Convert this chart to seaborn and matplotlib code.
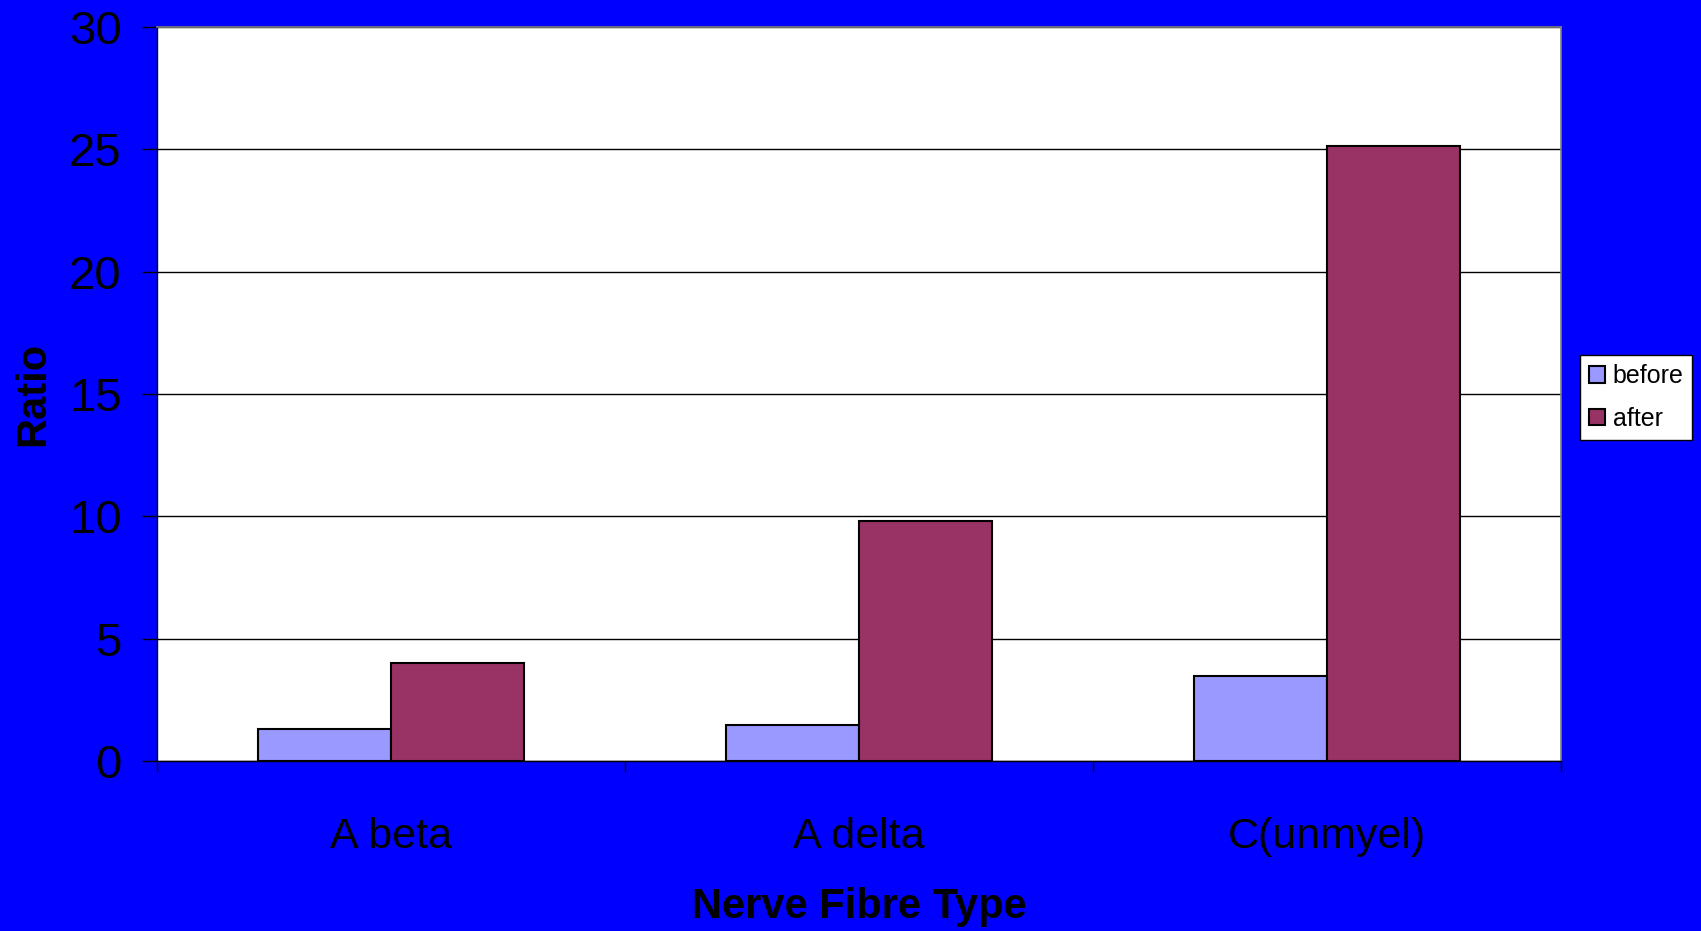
import matplotlib
matplotlib.use("Agg")
import matplotlib.pyplot as plt
import seaborn as sns
import pandas as pd
from matplotlib.ticker import FixedLocator

categories = ["A beta", "A delta", "C(unmyel)"]
before = [1.32, 1.46, 3.47]
after = [4.0, 9.82, 25.15]
series = ["before", "after"]
colors = {"before": "#9999FF", "after": "#993366"}

df = pd.DataFrame({
    "Nerve Fibre Type": categories * 2,
    "Ratio": before + after,
    "series": ["before"] * 3 + ["after"] * 3,
})

sns.set_style("white")
plt.rcParams["font.family"] = ["Liberation Sans", "DejaVu Sans"]
plt.rcParams["text.color"] = "black"
plt.rcParams["axes.labelcolor"] = "black"
plt.rcParams["xtick.color"] = "black"
plt.rcParams["ytick.color"] = "black"

fig = plt.figure(figsize=(17.01, 9.31), dpi=100)
fig.patch.set_facecolor("#0000FF")
ax = fig.add_axes([157/1701, 1-761/931, (1561-157)/1701, (761-27)/931])
ax.set_facecolor("white")

sns.barplot(data=df, x="Nerve Fibre Type", y="Ratio", hue="series", hue_order=series,
            palette=colors, width=0.57, gap=0, edgecolor="black", linewidth=1.5,
            saturation=1, ax=ax, legend=True, zorder=3)

ax.set_xlim(-0.5, 2.5)
ax.set_ylim(0, 30)
ax.set_yticks([0, 5, 10, 15, 20, 25, 30])
ax.yaxis.grid(True, color="black", linewidth=1.0, zorder=0)
ax.set_axisbelow(True)
ax.tick_params(axis="y", which="major", length=10.5, width=1.0, color="black",
               labelsize=34, pad=15, left=True, direction="out", labelcolor="black")
ax.tick_params(axis="x", which="major", length=0, labelsize=31, pad=40, labelcolor="black")
ax.xaxis.set_minor_locator(FixedLocator([-0.5, 0.5, 1.5, 2.5]))
ax.tick_params(axis="x", which="minor", length=8, width=1.0, color="black",
               bottom=True, direction="out")

for s in ["left", "bottom"]:
    ax.spines[s].set_color("black")
    ax.spines[s].set_linewidth(1.0)
for s in ["top", "right"]:
    ax.spines[s].set_color("#808080")
    ax.spines[s].set_linewidth(1.2)

ax.set_ylabel("Ratio", fontsize=30, fontweight="bold", labelpad=11, color="black")
ax.set_xlabel("Nerve Fibre Type", fontsize=30, fontweight="bold", labelpad=22, color="black")

handles, labels = ax.get_legend_handles_labels()
ax.legend_.remove()
leg = fig.legend(handles, labels, loc="center left",
                 bbox_to_anchor=(1580/1701, 1-397.5/931), fontsize=18,
                 frameon=True, fancybox=False, edgecolor="black", facecolor="white",
                 framealpha=1, handlelength=0.65, handleheight=0.65, handletextpad=0.3,
                 borderpad=0.35, labelspacing=0.75, borderaxespad=0)
leg.get_frame().set_linewidth(1.0)
for t in leg.get_texts():
    t.set_color("black")

fig.savefig("out.png", dpi=100, facecolor=fig.get_facecolor())
